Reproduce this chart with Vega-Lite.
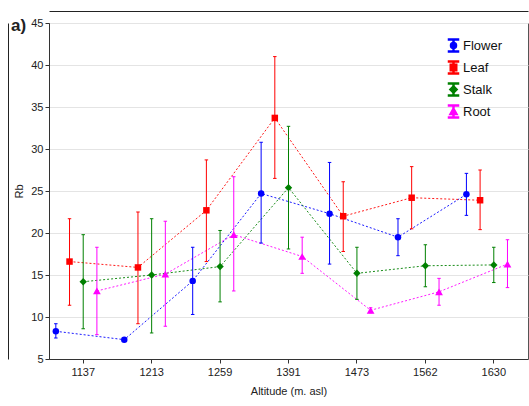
{
  "$schema": "https://vega.github.io/schema/vega-lite/v6.json",
  "width": 479,
  "height": 336,
  "autosize": {"type": "none"},
  "padding": {"left": 49, "top": 23, "right": 1, "bottom": 47},
  "background": "white",
  "title": {
    "text": "a)",
    "anchor": "start",
    "frame": "group",
    "fontSize": 17,
    "fontWeight": "bold",
    "color": "#222",
    "baseline": "alphabetic",
    "offset": 0,
    "dx": -38,
    "dy": 37
  },
  "config": {
    "font": "Liberation Sans",
    "view": {"stroke": "#555", "strokeWidth": 1},
    "axis": {
      "labelFont": "Liberation Sans",
      "titleFont": "Liberation Sans",
      "labelFontSize": 11,
      "titleFontSize": 11,
      "titleFontWeight": "normal",
      "labelColor": "#222",
      "titleColor": "#222",
      "domainColor": "#333",
      "tickColor": "#333",
      "tickSize": 4
    },
    "legend": {
      "labelFont": "Liberation Sans",
      "labelFontSize": 13,
      "labelColor": "#111",
      "title": null,
      "orient": "none",
      "legendX": 398,
      "legendY": 16,
      "padding": 0,
      "symbolSize": 100,
      "symbolOpacity": 1,
      "labelOffset": 3,
      "rowPadding": 3
    }
  },
  "data": {
    "values": [
      {"alt": "1137", "part": "Flower", "mean": 8.3, "lo": 7.5, "hi": 9.2},
      {"alt": "1213", "part": "Flower", "mean": 7.3, "lo": 7.2, "hi": 7.4},
      {"alt": "1259", "part": "Flower", "mean": 14.3, "lo": 10.3, "hi": 18.3},
      {"alt": "1391", "part": "Flower", "mean": 24.7, "lo": 18.8, "hi": 30.8},
      {"alt": "1473", "part": "Flower", "mean": 22.3, "lo": 16.3, "hi": 28.4},
      {"alt": "1562", "part": "Flower", "mean": 19.5, "lo": 17.3, "hi": 21.7},
      {"alt": "1630", "part": "Flower", "mean": 24.6, "lo": 22.1, "hi": 27.1},
      {"alt": "1137", "part": "Leaf", "mean": 16.6, "lo": 11.4, "hi": 21.7},
      {"alt": "1213", "part": "Leaf", "mean": 15.9, "lo": 9.2, "hi": 22.5},
      {"alt": "1259", "part": "Leaf", "mean": 22.7, "lo": 16.6, "hi": 28.7},
      {"alt": "1391", "part": "Leaf", "mean": 33.7, "lo": 26.5, "hi": 41.0},
      {"alt": "1473", "part": "Leaf", "mean": 22.0, "lo": 17.8, "hi": 26.1},
      {"alt": "1562", "part": "Leaf", "mean": 24.2, "lo": 20.5, "hi": 27.9},
      {"alt": "1630", "part": "Leaf", "mean": 23.9, "lo": 20.4, "hi": 27.5},
      {"alt": "1137", "part": "Stalk", "mean": 14.2, "lo": 8.6, "hi": 19.8},
      {"alt": "1213", "part": "Stalk", "mean": 15.0, "lo": 8.1, "hi": 21.7},
      {"alt": "1259", "part": "Stalk", "mean": 16.0, "lo": 11.8, "hi": 20.3},
      {"alt": "1391", "part": "Stalk", "mean": 25.4, "lo": 18.1, "hi": 32.7},
      {"alt": "1473", "part": "Stalk", "mean": 15.2, "lo": 12.1, "hi": 18.3},
      {"alt": "1562", "part": "Stalk", "mean": 16.1, "lo": 13.6, "hi": 18.6},
      {"alt": "1630", "part": "Stalk", "mean": 16.2, "lo": 14.1, "hi": 18.3},
      {"alt": "1137", "part": "Root", "mean": 13.1, "lo": 7.9, "hi": 18.3},
      {"alt": "1213", "part": "Root", "mean": 15.1, "lo": 8.9, "hi": 21.4},
      {"alt": "1259", "part": "Root", "mean": 19.8, "lo": 13.1, "hi": 26.7},
      {"alt": "1391", "part": "Root", "mean": 17.2, "lo": 15.2, "hi": 19.5},
      {"alt": "1473", "part": "Root", "mean": 10.8, "lo": 10.5, "hi": 11.1},
      {"alt": "1562", "part": "Root", "mean": 13.0, "lo": 11.4, "hi": 14.6},
      {"alt": "1630", "part": "Root", "mean": 16.3, "lo": 13.5, "hi": 19.2}
    ]
  },
  "resolve": {"axis": {"x": "independent", "y": "independent"}},
  "layer": [
    {
      "mark": {"type": "line", "strokeDash": [2, 2], "strokeWidth": 1, "opacity": 0.9},
      "encoding": {
        "x": {
          "field": "alt", "type": "ordinal",
          "scale": {"type": "band", "paddingInner": 0, "paddingOuter": 0},
          "axis": {"title": "Altitude (m. asl)", "labelAngle": 0, "labelPadding": 3, "titlePadding": 8, "grid": false}
        },
        "xOffset": {
          "field": "part", "type": "nominal",
          "scale": {"domain": ["Flower", "Leaf", "Stalk", "Root"], "paddingInner": 0, "paddingOuter": 0.5, "align": 0}
        },
        "y": {
          "field": "mean", "type": "quantitative",
          "scale": {"domain": [5, 45], "nice": false, "zero": false},
          "axis": {"title": "Rb", "values": [5, 10, 15, 20, 25, 30, 35, 40, 45], "grid": true, "gridColor": "#e4e4e4", "labelPadding": 2, "titlePadding": 6}
        },
        "color": {
          "field": "part", "type": "nominal",
          "scale": {"domain": ["Flower", "Leaf", "Stalk", "Root"], "range": ["#0000ff", "#ff0000", "#008000", "#ff00ff"]}
        },
        "detail": {"field": "part"}
      }
    },
    {
      "mark": {"type": "rule", "strokeWidth": 1},
      "encoding": {
        "x": {"field": "alt", "type": "ordinal", "axis": {"orient": "top", "offset": 12, "labels": false, "ticks": false, "grid": false, "title": null, "domainColor": "#222"}},
        "xOffset": {"field": "part", "type": "nominal"},
        "y": {"field": "lo", "type": "quantitative", "axis": {"orient": "left", "offset": 41, "labels": false, "ticks": false, "grid": false, "title": null, "domainColor": "#222"}},
        "y2": {"field": "hi"},
        "color": {"field": "part", "type": "nominal"}
      }
    },
    {
      "mark": {"type": "point", "shape": "stroke", "size": 12, "strokeWidth": 1, "opacity": 1},
      "encoding": {
        "x": {"field": "alt", "type": "ordinal", "axis": null},
        "xOffset": {"field": "part", "type": "nominal"},
        "y": {"field": "lo", "type": "quantitative", "axis": null},
        "color": {"field": "part", "type": "nominal"}
      }
    },
    {
      "mark": {"type": "point", "shape": "stroke", "size": 12, "strokeWidth": 1, "opacity": 1},
      "encoding": {
        "x": {"field": "alt", "type": "ordinal", "axis": null},
        "xOffset": {"field": "part", "type": "nominal"},
        "y": {"field": "hi", "type": "quantitative", "axis": null},
        "color": {"field": "part", "type": "nominal"}
      }
    },
    {
      "transform": [{"filter": {"field": "part", "equal": "Flower"}}],
      "mark": {"type": "point", "filled": true, "shape": "circle", "size": 42, "opacity": 1},
      "encoding": {
        "x": {"field": "alt", "type": "ordinal", "axis": null},
        "xOffset": {"field": "part", "type": "nominal"},
        "y": {"field": "mean", "type": "quantitative", "axis": null},
        "color": {"field": "part", "type": "nominal"}
      }
    },
    {
      "transform": [{"filter": {"field": "part", "equal": "Leaf"}}],
      "mark": {"type": "point", "filled": true, "shape": "square", "size": 42, "opacity": 1},
      "encoding": {
        "x": {"field": "alt", "type": "ordinal", "axis": null},
        "xOffset": {"field": "part", "type": "nominal"},
        "y": {"field": "mean", "type": "quantitative", "axis": null},
        "color": {"field": "part", "type": "nominal"}
      }
    },
    {
      "transform": [{"filter": {"field": "part", "equal": "Stalk"}}],
      "mark": {"type": "point", "filled": true, "shape": "diamond", "size": 55, "opacity": 1},
      "encoding": {
        "x": {"field": "alt", "type": "ordinal", "axis": null},
        "xOffset": {"field": "part", "type": "nominal"},
        "y": {"field": "mean", "type": "quantitative", "axis": null},
        "color": {"field": "part", "type": "nominal"}
      }
    },
    {
      "transform": [{"filter": {"field": "part", "equal": "Root"}}],
      "mark": {"type": "point", "filled": true, "shape": "triangle-up", "size": 60, "opacity": 1},
      "encoding": {
        "x": {"field": "alt", "type": "ordinal", "axis": null},
        "xOffset": {"field": "part", "type": "nominal"},
        "y": {"field": "mean", "type": "quantitative", "axis": null},
        "color": {"field": "part", "type": "nominal"}
      }
    },
    {
      "mark": {"type": "point", "filled": true, "size": 100, "opacity": 0},
      "encoding": {
        "x": {"field": "alt", "type": "ordinal", "axis": null},
        "xOffset": {"field": "part", "type": "nominal"},
        "y": {"field": "mean", "type": "quantitative", "axis": null},
        "color": {"field": "part", "type": "nominal"},
        "shape": {
          "field": "part", "type": "nominal",
          "scale": {
            "domain": ["Flower", "Leaf", "Stalk", "Root"],
            "range": [
              "M-1,-1.3H1V-1.1H-1ZM-0.1,-1.2H0.1V1.2H-0.1ZM-1,1.1H1V1.3H-1ZM0.6,0A0.6,0.6 0 1,1 -0.6,0A0.6,0.6 0 1,1 0.6,0Z",
              "M-1,-1.3H1V-1.1H-1ZM-0.1,-1.2H0.1V1.2H-0.1ZM-1,1.1H1V1.3H-1ZM-0.65,-0.65H0.65V0.65H-0.65Z",
              "M-1,-1.3H1V-1.1H-1ZM-0.1,-1.2H0.1V1.2H-0.1ZM-1,1.1H1V1.3H-1ZM0,-0.75L0.75,0L0,0.75L-0.75,0Z",
              "M-1,-1.3H1V-1.1H-1ZM-0.1,-1.2H0.1V1.2H-0.1ZM-1,1.1H1V1.3H-1ZM0,-0.75L0.75,0.6H-0.75Z"
            ]
          }
        }
      }
    }
  ]
}
